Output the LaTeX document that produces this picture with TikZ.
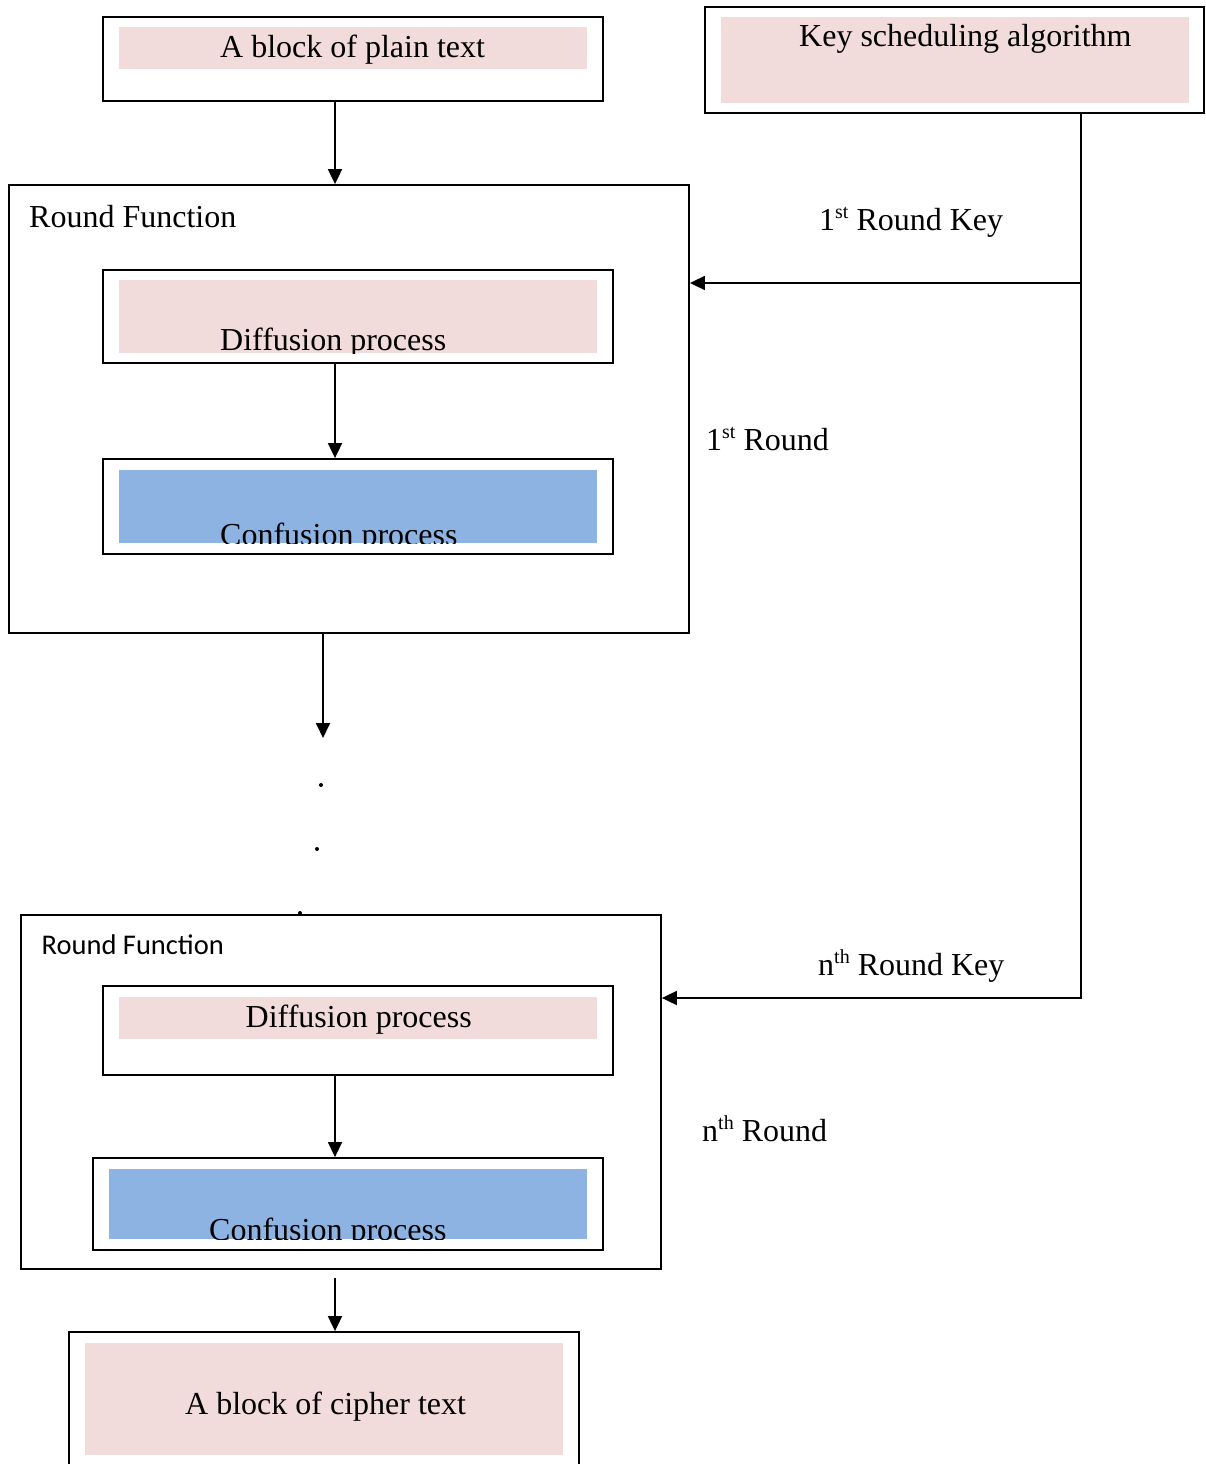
\documentclass[tikz,border=0pt]{standalone}
\usepackage{fontspec}
\setmainfont{Liberation Serif}
\newfontfamily\calfont{Carlito}
\usetikzlibrary{arrows.meta}
\definecolor{blushfill}{HTML}{F2DBDB}
\definecolor{skyfill}{HTML}{8DB3E2}
\newcommand\suptext[1]{\raisebox{12pt}{\fontsize{20}{20}\selectfont #1}}
\begin{document}
\begin{tikzpicture}[x=1pt,y=-1pt,
  frame/.style={draw, line width=1.8pt, inner sep=0pt},
  lbl/.style={inner sep=0pt, anchor=base west, font=\fontsize{32}{38}\selectfont},
  sanslbl/.style={inner sep=0pt, anchor=base west, font=\calfont\fontsize{28.5}{34}\selectfont},
  arr/.style={line width=1.8pt, -{Triangle[width=14pt,length=15pt]}},
  thinarr/.style={line width=1.4pt, -{Triangle[width=14pt,length=15pt]}},
  dotmark/.style={circle, fill=black, inner sep=0pt, minimum size=4pt}]
\useasboundingbox (0,0) rectangle (1205,1464);
\clip (0,0) rectangle (1205,1464);

% coloured panels inside the boxes
\fill[blushfill] (119,27) rectangle (587,69);
\fill[blushfill] (721,17) rectangle (1189,103);
\fill[blushfill] (119,280) rectangle (597,353);
\fill[skyfill] (119,470) rectangle (597,543);
\fill[blushfill] (119,997) rectangle (597,1039);
\fill[skyfill] (109,1169) rectangle (587,1239);
\fill[blushfill] (85,1343) rectangle (563,1455);

% outer frames
\node[frame, minimum width=500pt, minimum height=84pt] (plain) at (353,59) {};
\node[frame, minimum width=499pt, minimum height=106pt] (key) at (954.5,60) {};
\node[frame, minimum width=680pt, minimum height=448pt] (rf1) at (349,409) {};
\node[frame, minimum width=510pt, minimum height=93pt] (diff1) at (358,316.5) {};
\node[frame, minimum width=510pt, minimum height=95pt] (conf1) at (358,506.5) {};
\node[frame, minimum width=640pt, minimum height=354pt] (rf2) at (341,1092) {};
\node[frame, minimum width=510pt, minimum height=89pt] (diff2) at (358,1030.5) {};
\node[frame, minimum width=510pt, minimum height=92pt] (conf2) at (348,1204) {};
\node[frame, minimum width=510pt, minimum height=148pt] (cipher) at (324,1406) {};

% texts
\node[lbl] (plaintxt) at (220,58) {A block of plain text};
\node[lbl] (keytxt) at (799,47) {Key scheduling algorithm};
\node[lbl] (rf1txt) at (29,227) {Round Function};
\begin{scope}
  \clip (119,280) rectangle (597,353);
  \node[lbl] (diff1txt) at (220,350) {Diffusion process};
\end{scope}
\begin{scope}
  \clip (119,470) rectangle (597,543);
  \node[lbl] (conf1txt) at (220,545) {Confusion process};
\end{scope}
\node[sanslbl] (rf2txt) at (41.5,954) {Round Function};
\node[lbl] (diff2txt) at (245.5,1027) {Diffusion process};
\begin{scope}
  \clip (109,1169) rectangle (587,1239);
  \node[lbl] (conf2txt) at (209,1240) {Confusion process};
\end{scope}
\node[lbl] (ciphertxt) at (185,1414) {A block of cipher text};
\node[lbl] (key1txt) at (819,230) {1\suptext{st} Round Key};
\node[lbl] (round1txt) at (706,450) {1\suptext{st} Round};
\node[lbl] (keyntxt) at (818,975) {n\suptext{th} Round Key};
\node[lbl] (roundntxt) at (702,1141) {n\suptext{th} Round};

% ellipsis between the rounds
\node[dotmark] (dot1) at (321,785) {};
\node[dotmark] (dot2) at (317,849) {};
\node[dotmark] (dot3) at (300,913) {};

% connector guides
\coordinate (mainx) at (335,0);
\coordinate (midx) at (323,0);
\coordinate (dtop) at (323,738);
\coordinate (cstart) at (335,1278);
\coordinate (kx) at (1081,0);
\coordinate (k1) at (0,283);
\coordinate (k2) at (0,998);

% connectors
\draw[arr] (plain.south -| mainx) -- (rf1.north -| mainx);
\draw[arr] (diff1.south -| mainx) -- (conf1.north -| mainx);
\draw[arr] (rf1.south -| midx) -- (dtop);
\draw[thinarr] (diff2.south -| mainx) -- (conf2.north -| mainx);
\draw[arr] (cstart) -- (cipher.north -| cstart);
\draw[arr] (key.south -| kx) |- (rf2.east |- k2);
\draw[arr] (kx |- k1) -- (rf1.east |- k1);
\end{tikzpicture}
\end{document}
